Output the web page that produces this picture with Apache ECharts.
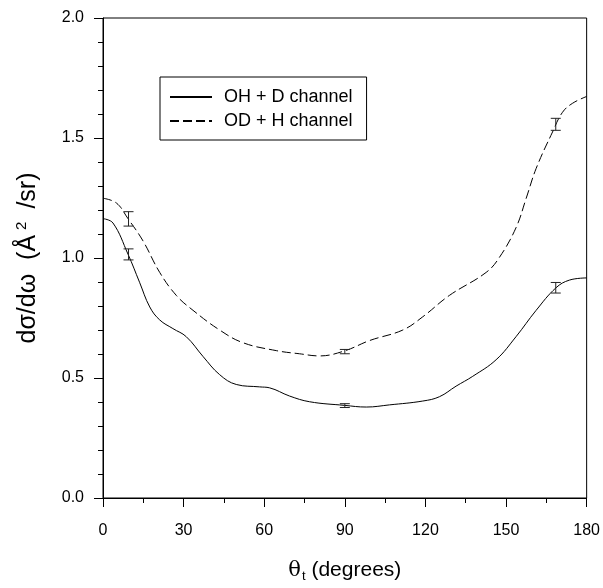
<!DOCTYPE html>
<html>
<head>
<meta charset="utf-8">
<script src="https://cdn.jsdelivr.net/npm/echarts@6/dist/echarts.min.js"></script>
<style>html,body{margin:0;padding:0;background:#fff}#c{width:603px;height:588px}</style>
</head>
<body>
<div id="c"></div>
<script>
// OH + D channel (solid)
var ohX = [0, 3.7, 9.3, 13.6, 17.4, 21.1, 26, 31, 37.2, 43.4, 49.6, 58.3, 62, 69.4, 76.9, 89.9, 98, 106.6, 119, 125.2, 131.4, 137.6, 146.3, 153.7, 161.2, 168.6, 173.6, 180];
var ohY = [1.164, 1.146, 1.016, 0.899, 0.796, 0.742, 0.706, 0.672, 0.590, 0.514, 0.473, 0.463, 0.459, 0.425, 0.401, 0.386, 0.379, 0.388, 0.404, 0.422, 0.466, 0.507, 0.576, 0.672, 0.782, 0.876, 0.908, 0.917];
// OD + H channel (dashed)
var odX = [0, 5, 9.3, 14.9, 21.1, 27.3, 33.5, 43.4, 52.1, 64.5, 73.1, 80.6, 89.9, 99.2, 111.6, 119, 128.9, 142.6, 147.5, 153.7, 157.5, 161.2, 167.3, 171, 174.8, 180];
var odY = [1.249, 1.229, 1.164, 1.071, 0.940, 0.844, 0.782, 0.700, 0.647, 0.614, 0.601, 0.592, 0.613, 0.656, 0.700, 0.755, 0.844, 0.940, 1.002, 1.126, 1.249, 1.373, 1.525, 1.607, 1.645, 1.673];
// error bars
var errX = [9.5, 90, 168.5];
var ohErrC = [1.015, 0.385, 0.876];
var ohErr = [0.023, 0.008, 0.022];
var odErrC = [1.163, 0.610, 1.557];
var odErr = [0.030, 0.009, 0.025];
var xTicks = [0, 30, 60, 90, 120, 150, 180];
var yTicks = [0.0, 0.5, 1.0, 1.5, 2.0];
var seriesNames = ['OH + D channel', 'OD + H channel'];

function zip(a, b) { return a.map(function (v, i) { return [v, b[i]]; }); }
function errData(c, e) { return errX.map(function (x, i) { return [x, c[i] - e[i], c[i] + e[i]]; }); }
function errRender(params, api) {
  var x = api.value(0), lo = api.value(1), hi = api.value(2);
  var p1 = api.coord([x, lo]), p2 = api.coord([x, hi]);
  var hw = 5;
  var st = { stroke: '#222', lineWidth: 1 };
  return { type: 'group', children: [
    { type: 'line', shape: { x1: p1[0], y1: p1[1], x2: p2[0], y2: p2[1] }, style: st },
    { type: 'line', shape: { x1: p1[0] - hw, y1: p1[1], x2: p1[0] + hw, y2: p1[1] }, style: st },
    { type: 'line', shape: { x1: p2[0] - hw, y1: p2[1], x2: p2[0] + hw, y2: p2[1] }, style: st }
  ]};
}

var FONT = '"Liberation Sans", Arial, Helvetica, sans-serif';
var chart = echarts.init(document.getElementById('c'), null, { renderer: 'canvas' });
chart.setOption({
  animation: false,
  backgroundColor: '#fff',
  textStyle: { fontFamily: FONT },
  grid: { left: 103, right: 16, top: 18, bottom: 85, show: true, borderColor: '#000', borderWidth: 1, backgroundColor: 'transparent' },
  legend: {
    show: true, orient: 'vertical', left: 160, top: 77,
    data: seriesNames,
    backgroundColor: '#fff', borderColor: '#000', borderWidth: 1, borderRadius: 0,
    padding: [11, 14, 10, 9], itemGap: 6, itemWidth: 42, itemHeight: 14,
    itemStyle: { color: 'rgba(0,0,0,0)', borderWidth: 0, opacity: 0 },
    textStyle: { fontFamily: FONT, fontSize: 18, color: '#000', padding: [0, 0, 0, 7] }
  },
  xAxis: {
    type: 'value', min: 0, max: 180, interval: 30,
    axisLine: { show: true, onZero: false, lineStyle: { color: '#000', width: 1 } },
    axisTick: { show: true, inside: false, length: 9, lineStyle: { color: '#000' } },
    minorTick: { show: true, splitNumber: 2, length: 5, lineStyle: { color: '#000' } },
    splitLine: { show: false },
    axisLabel: { fontFamily: FONT, fontSize: 16, color: '#000', margin: 25,
      formatter: function (v) { return xTicks.indexOf(v) >= 0 ? String(v) : ''; } },
    name: '{th|θ}{sub|t} (degrees)',
    nameLocation: 'middle', nameGap: 60,
    nameTextStyle: { fontFamily: FONT, fontSize: 21, color: '#000',
      rich: { th: { fontFamily: '"DejaVu Serif", serif', fontSize: 21, color: '#000' },
              sub: { fontFamily: FONT, fontSize: 13, color: '#000', verticalAlign: 'bottom', padding: [12, 0, 0, 1] } } }
  },
  yAxis: {
    type: 'value', min: 0, max: 2, interval: 0.5,
    axisLine: { show: true, onZero: false, lineStyle: { color: '#000', width: 1 } },
    axisTick: { show: true, inside: false, length: 9, lineStyle: { color: '#000' } },
    minorTick: { show: true, splitNumber: 5, length: 5, lineStyle: { color: '#000' } },
    splitLine: { show: false },
    axisLabel: { fontFamily: FONT, fontSize: 16, color: '#000', margin: 19,
      formatter: function (v) { return v.toFixed(1); } },
    name: 'dσ/dω  (Å{sup|2} /sr)',
    nameLocation: 'middle', nameGap: 60, nameRotate: 90,
    nameTextStyle: { fontFamily: FONT, fontSize: 25, color: '#000',
      rich: { sup: { fontFamily: FONT, fontSize: 15, color: '#000', padding: [0, 6, 14, 5] } } }
  },
  series: [
    { name: seriesNames[0], type: 'line', data: zip(ohX, ohY), smooth: 0.4, showSymbol: false, symbol: 'none',
      lineStyle: { color: '#000', width: 1, type: 'solid' }, itemStyle: { color: '#000' }, z: 3 },
    { name: seriesNames[1], type: 'line', data: zip(odX, odY), smooth: 0.4, showSymbol: false, symbol: 'none',
      lineStyle: { color: '#000', width: 1, type: [9, 4] }, itemStyle: { color: '#000' }, z: 3 },
    { type: 'custom', renderItem: errRender, data: errData(ohErrC, ohErr), z: 4, silent: true },
    { type: 'custom', renderItem: errRender, data: errData(odErrC, odErr), z: 4, silent: true }
  ]
});
</script>
</body>
</html>
